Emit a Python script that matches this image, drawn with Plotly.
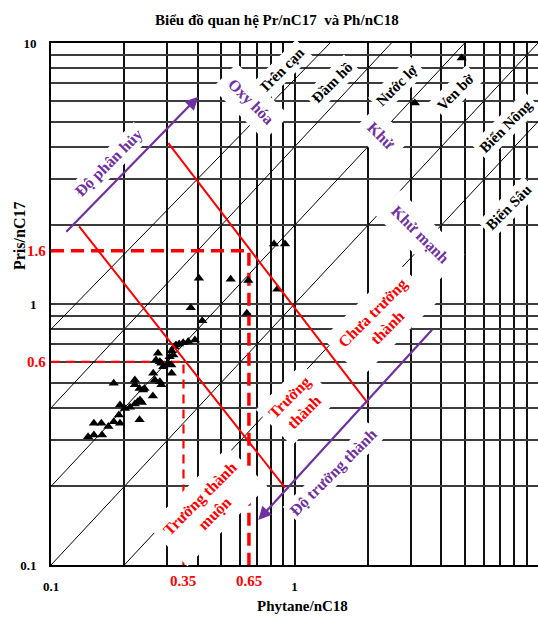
import numpy as np
import plotly.graph_objects as go

# Sample ratios: Phytane/nC18 (x) and Pristane/nC17 (y)
ph_nc18 = [0.142, 0.150, 0.162, 0.150, 0.161, 0.172, 0.181, 0.192, 0.190, 0.231,
           0.192, 0.201, 0.211, 0.221, 0.227, 0.232, 0.236, 0.262, 0.239, 0.181,
           0.221, 0.221, 0.231, 0.242, 0.263, 0.267, 0.280, 0.284, 0.313, 0.270,
           0.280, 0.284, 0.289, 0.303, 0.312, 0.275, 0.313, 0.318, 0.307, 0.321,
           0.326, 0.336, 0.349, 0.366, 0.390, 0.418, 0.375, 0.405, 0.547, 0.646,
           0.637, 0.824, 0.914, 0.850, 3.12, 4.86]
pr_nc17 = [0.310, 0.315, 0.315, 0.349, 0.349, 0.339, 0.354, 0.349, 0.376, 0.360,
           0.410, 0.398, 0.402, 0.414, 0.422, 0.429, 0.419, 0.444, 0.468, 0.497,
           0.511, 0.490, 0.475, 0.475, 0.543, 0.511, 0.504, 0.490, 0.543, 0.610,
           0.601, 0.593, 0.575, 0.593, 0.584, 0.647, 0.662, 0.638, 0.628, 0.686,
           0.697, 0.703, 0.711, 0.718, 0.728, 0.863, 0.968, 1.254, 1.243, 1.230,
           0.921, 1.698, 1.698, 1.139, 5.89, 8.76]

# Environment boundary diagonals (start / end points)
diag_x0 = [0.1, 0.1, 0.1, 0.1, 0.2]
diag_y0 = [0.8, 0.4, 0.2, 0.1, 0.1]
diag_x1 = [1.4, 2.5, 5.0, 10.0, 10.0]
diag_y1 = [10.0, 10.0, 10.0, 10.0, 5.0]

# Maturity reference values
pr_marks = [1.6, 0.6]
ph_marks = [0.65, 0.35]

# Maturity zone boundaries (solid red)
zone_x0 = [0.30, 0.129]
zone_y0 = [4.19, 2.01]
zone_x1 = [2.01, 0.914]
zone_y1 = [0.414, 0.198]

# Trend arrows: tail -> head
arrow_tail = [(0.114, 1.866), (3.72, 0.807)]
arrow_head = [(0.403, 6.23), (0.710, 0.1487)]

grid_vals = [m * 10.0 ** e for e in (-1, 0) for m in range(1, 10)] + [10.0]
tick_text = {0.1: "0.1", 1.0: "1", 10.0: "10"}
grid_text = [tick_text.get(round(v, 6), "") for v in grid_vals]

SERIF = "Liberation Serif"
PURPLE = "#7030A0"
RED = "#FF0000"

fig = go.Figure()

for x0, y0, x1, y1 in zip(diag_x0, diag_y0, diag_x1, diag_y1):
    fig.add_trace(go.Scatter(x=[x0, x1], y=[y0, y1], mode="lines",
                             line=dict(color="black", width=1),
                             hoverinfo="skip", showlegend=False))

# dashed guides
fig.add_trace(go.Scatter(x=[0.1, ph_marks[0], ph_marks[0]], y=[pr_marks[0], pr_marks[0], 0.1],
                         mode="lines", line=dict(color=RED, width=3.5, dash="13px,7px"),
                         hoverinfo="skip", showlegend=False))
fig.add_trace(go.Scatter(x=[0.1, ph_marks[1], ph_marks[1]], y=[pr_marks[1], pr_marks[1], 0.1],
                         mode="lines", line=dict(color=RED, width=2.2, dash="9px,6px"),
                         hoverinfo="skip", showlegend=False))

fig.add_trace(go.Scatter(x=ph_nc18, y=pr_nc17, mode="markers",
                         marker=dict(symbol="triangle-up", size=9, color="black"),
                         showlegend=False))

L = np.log10
ann = []


def label(text, x, y, angle, color, size, pad):
    ann.append(dict(text=text, x=L(x), y=L(y), xref="x", yref="y", showarrow=False,
                    textangle=angle, bgcolor="white", borderpad=pad, align="center",
                    font=dict(family=SERIF, size=size, color=color, weight="bold")))


label("Trên cạn", 0.886, 7.88, -45, "black", 15, 3)
label("Đầm hồ", 1.42, 7.03, -45, "black", 15, 3)
label("Nước lợ", 2.64, 6.9, -45, "black", 15, 3)
label("Ven bờ", 4.59, 6.49, -45, "black", 15, 3)
label("Biển Nông", 7.4, 4.8, -45, "black", 15, 3)
label("Biển Sâu", 7.6, 2.35, -45, "black", 15, 3)
label("Oxy hóa", 0.662, 5.94, 45, PURPLE, 16, 8)
label("Khử", 2.27, 4.44, 45, PURPLE, 16, 8)
label("Khử mạnh", 3.28, 1.84, 45, PURPLE, 16, 8)
label("Độ phân hủy", 0.173, 3.47, -45, PURPLE, 16, 2)
label("Độ trưởng thành", 1.44, 0.225, -45, PURPLE, 16, 2)
label("Chưa trưởng<br>thành", 2.25, 0.868, -45, RED, 16, 8)
label("Trưởng<br>thành", 1.02, 0.41, -45, RED, 16, 6)
label("Trưởng thành<br>muộn", 0.44, 0.167, -45, RED, 16, 8)

for x0, y0, x1, y1 in zip(zone_x0, zone_y0, zone_x1, zone_y1):
    ann.append(dict(text="", x=L(x1), y=L(y1), ax=L(x0), ay=L(y0), xref="x", yref="y",
                    axref="x", ayref="y", showarrow=True, arrowhead=0, arrowwidth=2,
                    arrowcolor=RED, standoff=0, startstandoff=0))

for (tx, ty), (hx, hy) in zip(arrow_tail, arrow_head):
    ann.append(dict(text="", x=L(hx), y=L(hy), ax=L(tx), ay=L(ty), xref="x", yref="y",
                    axref="x", ayref="y", showarrow=True, arrowhead=2, arrowsize=1.2,
                    arrowwidth=2.2, arrowcolor=PURPLE, standoff=0, startstandoff=0))

# red tick values
for v in pr_marks:
    ann.append(dict(text=f"{v:g}", x=0, xref="paper", xanchor="right", xshift=-3,
                    y=L(v), yref="y", showarrow=False,
                    font=dict(family=SERIF, size=15, color=RED, weight="bold")))
for v in ph_marks:
    ann.append(dict(text=f"{v:g}", y=0, yref="paper", yanchor="top", yshift=-6,
                    x=L(v), xref="x", showarrow=False,
                    font=dict(family=SERIF, size=15, color=RED, weight="bold")))

# axis titles and chart title
ann.append(dict(text="Pris/nC17", x=19, y=236, showarrow=False, textangle=-90))
ann.append(dict(text="Phytane/nC18", x=302, y=606, showarrow=False))
ann.append(dict(text="Biểu đồ quan hệ Pr/nC17  và Ph/nC18", x=277, y=20, showarrow=False))

# convert pixel-placed titles to paper coords
W, H = 538, 617
ml, mr, mt, mb = 51, 0, 43, 52
pw, ph = W - ml - mr, H - mt - mb
for a, size in zip(ann[-3:], (16, 15, 15)):
    a["xref"] = "paper"
    a["yref"] = "paper"
    a["x"] = (a["x"] - ml) / pw
    a["y"] = (H - mb - a["y"]) / ph
    a["xanchor"] = "center"
    a["yanchor"] = "middle"
    a["font"] = dict(family=SERIF, size=size, color="black", weight="bold")

axis_common = dict(type="log", range=[-1, 1], tickmode="array", tickvals=grid_vals,
                   ticktext=grid_text, showgrid=True, gridwidth=2, ticks="",
                   showline=True, linecolor="black", linewidth=2,
                   zeroline=False,
                   tickfont=dict(family=SERIF, size=13, color="black", weight="bold"))

fig.update_layout(
    width=W, height=H, margin=dict(l=ml, r=mr, t=mt, b=mb),
    paper_bgcolor="white", plot_bgcolor="white",
    xaxis=dict(axis_common, gridcolor="#111111", ticklabelstandoff=8, mirror=True),
    yaxis=dict(axis_common, gridcolor="#3c3c3c", ticklabelstandoff=10, mirror=False),
    annotations=ann, showlegend=False,
)

fig.write_html("out.html")
